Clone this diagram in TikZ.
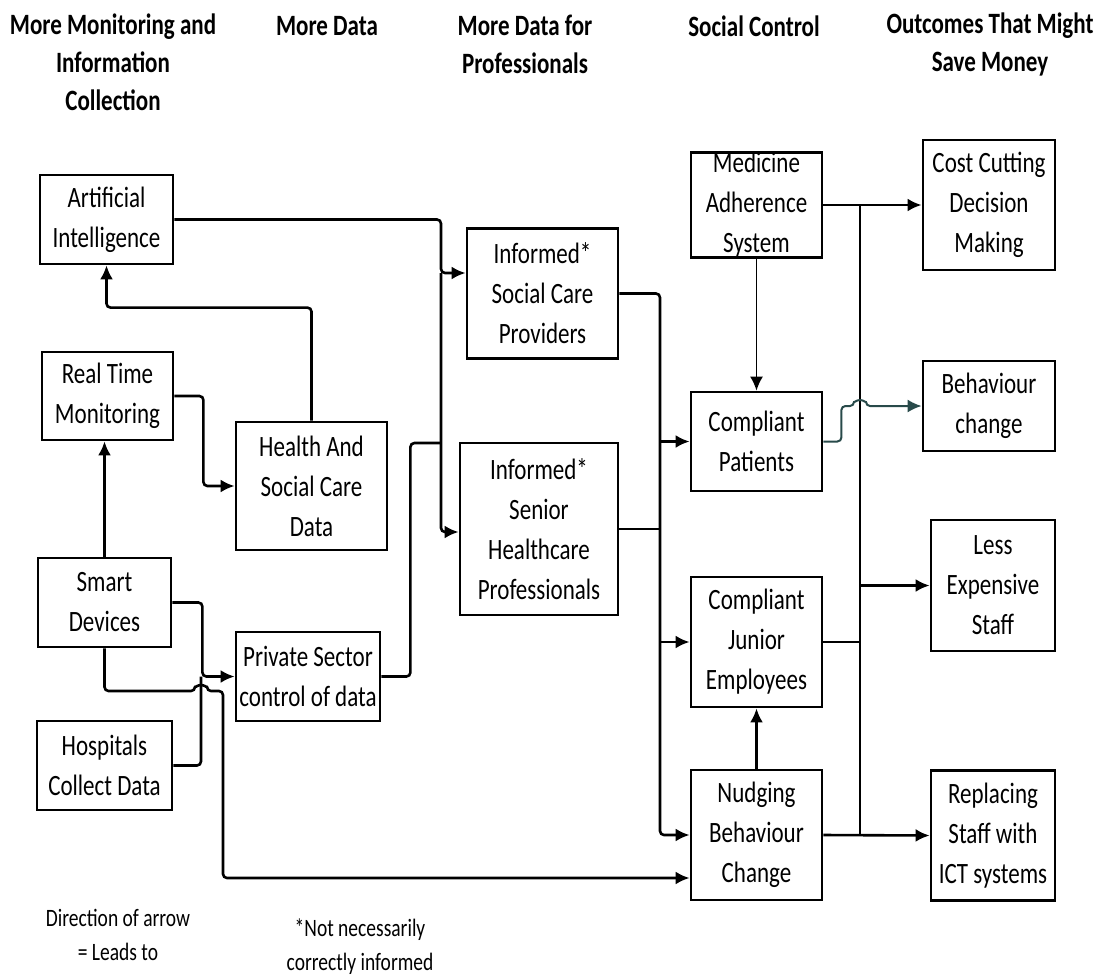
\documentclass[tikz,border=0pt]{standalone}
\usepackage{fontspec}
\setmainfont{Carlito}[FakeStretch=0.78]
\usetikzlibrary{arrows.meta}
\definecolor{slate}{RGB}{40,74,74}

\begin{document}
\begin{tikzpicture}[x=0.5pt,y=-0.5pt,>={Latex[length=7pt,width=6.5pt]},
		font=\fontsize{14.75}{20}\selectfont,
		box/.style={draw,line width=1.4pt,align=center,inner sep=0pt},
		head/.style={align=center,font=\fontsize{14.75}{19}\selectfont\bfseries},
		note/.style={align=center,font=\fontsize{12.5}{17}\selectfont},
		flow/.style={->,line width=1.3pt,rounded corners=2pt},
		wire/.style={line width=1.3pt,rounded corners=2pt}]
	\useasboundingbox (0,0) rectangle (1104,976);
	\fill[white] (0,0) rectangle (1104,976);

	% column headings
	\node[head] (h1) at (113,62) {More Monitoring and\\Information\\Collection};
	\node[head] (h2) at (327,26) {More Data};
	\node[head] (h3) at (525,44) {More Data for\\Professionals};
	\node[head] (h4) at (754,26) {Social Control};
	\node[head] (h5) at (990,44) {Outcomes That Might\\Save Money};

	% boxes
	\node[box,minimum width=66.5pt,minimum height=44.5pt] (ai) at (106.5,219.5) {Artificial\\Intelligence};
	\node[box,minimum width=65.5pt,minimum height=44pt] (rtm) at (107.5,396) {Real Time\\Monitoring};
	\node[box,minimum width=75.5pt,minimum height=64pt] (hscd) at (311.5,486) {Health And\\Social Care\\Data};
	\node[box,minimum width=66.5pt,minimum height=44.5pt] (smart) at (104.5,602.5) {Smart\\Devices};
	\node[box,minimum width=72pt,minimum height=44.5pt] (psc) at (308,676.5) {Private Sector\\control of data};
	\node[box,minimum width=67.5pt,minimum height=44.5pt] (hosp) at (104.5,765.5) {Hospitals\\Collect Data};
	\node[box,minimum width=75.5pt,minimum height=65pt] (scp) at (542.5,293.5) {Informed*\\Social Care\\Providers};
	\node[box,minimum width=79pt,minimum height=86pt] (shp) at (539,529) {Informed*\\Senior\\Healthcare\\Professionals};
	\node[box,minimum width=65.5pt,minimum height=49pt] (mas) at (756.5,205) {Medicine\\Adherence\\System};
	\node[box,minimum width=65.5pt,minimum height=49.5pt] (cpat) at (756.5,441.5) {Compliant\\Patients};
	\node[box,minimum width=65.5pt,minimum height=65pt] (cje) at (756.5,642) {Compliant\\Junior\\Employees};
	\node[box,minimum width=65.5pt,minimum height=65pt] (nbc) at (756.5,835) {Nudging\\Behaviour\\Change};
	\node[box,minimum width=66pt,minimum height=65pt] (ccdm) at (989,205) {Cost Cutting\\Decision\\Making};
	\node[box,minimum width=66pt,minimum height=45pt] (bc) at (989,406) {Behaviour\\change};
	\node[box,minimum width=62pt,minimum height=65.5pt] (les) at (993,585.5) {Less\\Expensive\\Staff};
	\node[box,minimum width=62pt,minimum height=65pt] (rsict) at (993,835.5) {Replacing\\Staff with\\ICT systems};

	% notes
	\node[note] (n1) at (118,935) {Direction of arrow\\= Leads to};
	\node[note] (n2) at (360,947) {*Not necessarily\\correctly informed};

	% junctions
	\coordinate (hj) at (201,676.5);
	\coordinate (hop1) at (195,691);
	\coordinate (nj) at (223,878);
	\coordinate (ja) at (441,273);
	\coordinate (jb) at (441,532);
	\coordinate (jc) at (441,443);
	\coordinate (jd) at (660,835);
	\coordinate (je) at (860,835);
	\coordinate (hop2) at (854,406);

	% monitoring -> data
	\draw[flow] (smart.north) -- (smart.north |- rtm.south);
	\draw[flow] (rtm.east) -- ++(29,0) |- (hscd.west);
	\draw[flow] (hscd.north) -- ++(0,-113) -| (ai.south);
	\draw[flow] (smart.east) -- ++(30,0) |- (psc.west);
	\draw[wire] (hosp.east) -| (hj);
	\draw[flow] (smart.south) |- (hop1) arc[start angle=180,end angle=0,radius=3pt] -| (nj) -- (nj -| nbc.west);

	% data -> professionals
	\draw[flow] (ai.east) -| (ja) -- (ja -| scp.west);
	\draw[flow] (ja) -- (jb) -- (jb -| shp.west);
	\draw[wire] (psc.east) -- ++(29,0) |- (jc);

	% professionals -> social control
	\draw[flow] (scp.east) -| (jd) -- (nbc.west);
	\draw[wire] (shp.east) -- (shp.east -| jd);
	\draw[flow] (cpat.west -| jd) -- (cpat.west);
	\draw[flow] (cje.west -| jd) -- (cje.west);
	\draw[flow,line width=0.8pt] (mas.south) -- (cpat.north);
	\draw[flow] (nbc.north) -- (cje.south);

	% social control -> outcomes
	\draw[flow] (mas.east) -- (ccdm.west);
	\draw[wire] (mas.east -| je) -- (je);
	\draw[flow] (les.west -| je) -- (les.west);
	\draw[flow] (nbc.east) -- (rsict.west);
	\draw[wire] (cje.east) -- (cje.east -| je);
	\draw[flow,slate,line width=1pt] (cpat.east) -- ++(18,0) |- (hop2) arc[start angle=180,end angle=0,radius=3pt] -- (bc.west);
\end{tikzpicture}
\end{document}
